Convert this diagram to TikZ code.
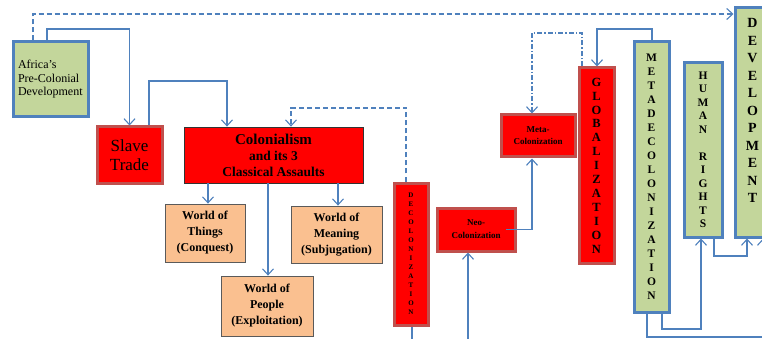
\documentclass[tikz,border=0pt]{standalone}
\usepackage{fontspec}
\setmainfont{Liberation Serif}
\usetikzlibrary{arrows.meta}
\definecolor{lineblue}{RGB}{79,129,189}
\definecolor{boxgreen}{RGB}{195,214,155}
\definecolor{boxorange}{RGB}{250,192,144}
\definecolor{redborder}{RGB}{192,80,77}
\definecolor{orborder}{RGB}{90,90,90}
\tikzset{
  conn/.style={draw=lineblue,line width=1.1pt,-{Straight Barb[length=6pt,width=11pt]}},
  dconn/.style={conn,dash pattern=on 5pt off 3pt},
  ddconn/.style={conn,dash pattern=on 5pt off 2pt on 1.5pt off 2pt},
  plain/.style={draw=lineblue,line width=1.1pt},
  greenbox/.style={draw=lineblue,fill=boxgreen,line width=3pt,inner sep=0pt,align=center},
  redbox/.style={draw=redborder,fill=red,line width=3pt,inner sep=0pt,align=center},
  colbox/.style={draw=black!80,fill=red,line width=0.8pt,inner sep=0pt,align=center},
  orbox/.style={draw=orborder,fill=boxorange,line width=0.8pt,inner sep=0pt,align=center},
}
\begin{document}
\begin{tikzpicture}[x=1pt,y=-1pt]
\useasboundingbox (0,0) rectangle (762,339);
\clip (0,0) rectangle (762,339);
% boxes
\node[greenbox,minimum width=75pt,minimum height=75pt,align=left,text width=65pt,inner xsep=5pt,font=\fontsize{12}{13.5}\selectfont] (africa) at (50.5,79.5) {Africa’s\\Pre-Colonial\\Development};
\node[redbox,minimum width=65pt,minimum height=56pt,font=\fontsize{17}{19}\selectfont] (slave) at (129.5,155) {Slave\\Trade};
\node[colbox,minimum width=179pt,minimum height=56pt,font=\bfseries\fontsize{13.5}{16}\selectfont] (colon) at (273.5,155) {{\fontsize{15}{16}\selectfont Colonialism}\\and its 3\\Classical Assaults};
\node[orbox,minimum width=80pt,minimum height=58pt,font=\bfseries\fontsize{12}{16}\selectfont] (things) at (205,233) {World of\\Things\\(Conquest)};
\node[orbox,minimum width=91pt,minimum height=57pt,font=\bfseries\fontsize{12}{16}\selectfont] (meaning) at (336.5,234.5) {World of\\Meaning\\(Subjugation)};
\node[orbox,minimum width=92pt,minimum height=60pt,font=\bfseries\fontsize{12}{16}\selectfont] (people) at (267,306) {World of\\People\\(Exploitation)};
\node[redbox,minimum width=34pt,minimum height=142pt,font=\bfseries\fontsize{7}{9}\selectfont] (decol) at (411,254) {D\\E\\C\\O\\L\\O\\N\\I\\Z\\A\\T\\I\\O\\N};
\node[redbox,minimum width=78pt,minimum height=43pt,font=\bfseries\fontsize{9}{13}\selectfont] (neo) at (476,229.5) {Neo-\\Colonization};
\node[redbox,minimum width=74pt,minimum height=42pt,font=\bfseries\fontsize{9}{12}\selectfont] (meta) at (538,136) {Meta-\\Colonization};
\node[redbox,minimum width=35pt,minimum height=195pt,font=\bfseries\fontsize{12.5}{13.9}\selectfont] (glob) at (596.5,165.5) {G\\L\\O\\B\\A\\L\\I\\Z\\A\\T\\I\\O\\N};
\node[greenbox,minimum width=35pt,minimum height=270pt,font=\bfseries\fontsize{11.5}{14}\selectfont] (metadec) at (651.5,177) {M\\E\\T\\A\\D\\E\\C\\O\\L\\O\\N\\I\\Z\\A\\T\\I\\O\\N};
\node[greenbox,minimum width=38pt,minimum height=174pt,font=\bfseries\fontsize{11.5}{13.5}\selectfont] (hr) at (703,150) {H\\U\\M\\A\\N\\~\\R\\I\\G\\H\\T\\S};
\node[greenbox,minimum width=35pt,minimum height=229pt] (dev) at (752.5,122.5) {};
\node[inner sep=0pt,align=center,anchor=north,font=\bfseries\fontsize{14}{17.5}\selectfont] (devtext) at ([yshift=-12pt]dev.north) {D\\E\\V\\E\\L\\O\\P\\M\\E\\N\\T};
% free ends
\coordinate (decolend) at (412,345);
\coordinate (neostart) at (468,345);
% connectors
\draw[dconn] (africa.north -| 33,0) |- (dev.west |- 0,14);
\draw[conn] (africa.north -| 47,0) -- (47,29) -| (slave.north);
\draw[conn] (slave.north -| 149,0) -- (149,81) -| (colon.north -| 227,0);
\draw[conn] (colon.south -| 208,0) -- (things.north -| 208,0);
\draw[conn] (colon.south -| 268,0) -- (people.north -| 268,0);
\draw[conn] (colon.south -| 338,0) -- (meaning.north -| 338,0);
\draw[dconn] (decol.north -| 406,0) -- (406,108) -| (colon.north -| 291,0);
\draw[plain] (decol.south -| 412,0) -- (decolend);
\draw[conn] (neostart) -- (neo.south -| 468,0);
\draw[conn] (neo.center -| 506,0) -| (meta.south -| 532,0);
\draw[ddconn] (glob.north -| 582,0) -- (582,33) -| (meta.north -| 532,0);
\draw[conn] (metadec.north -| 652,0) -- (652,29) -| (glob.north -| 597,0);
\draw[conn] (metadec.south -| 662,0) -- (662,329) -| (hr.south -| 701,0);
\draw[conn] (hr.south -| 714,0) -- (714,256) -| (dev.south -| 747,0);
\draw[conn] (metadec.south -| 647,0) -- (647,337) -| (dev.south -| 763,0);
\end{tikzpicture}
\end{document}
